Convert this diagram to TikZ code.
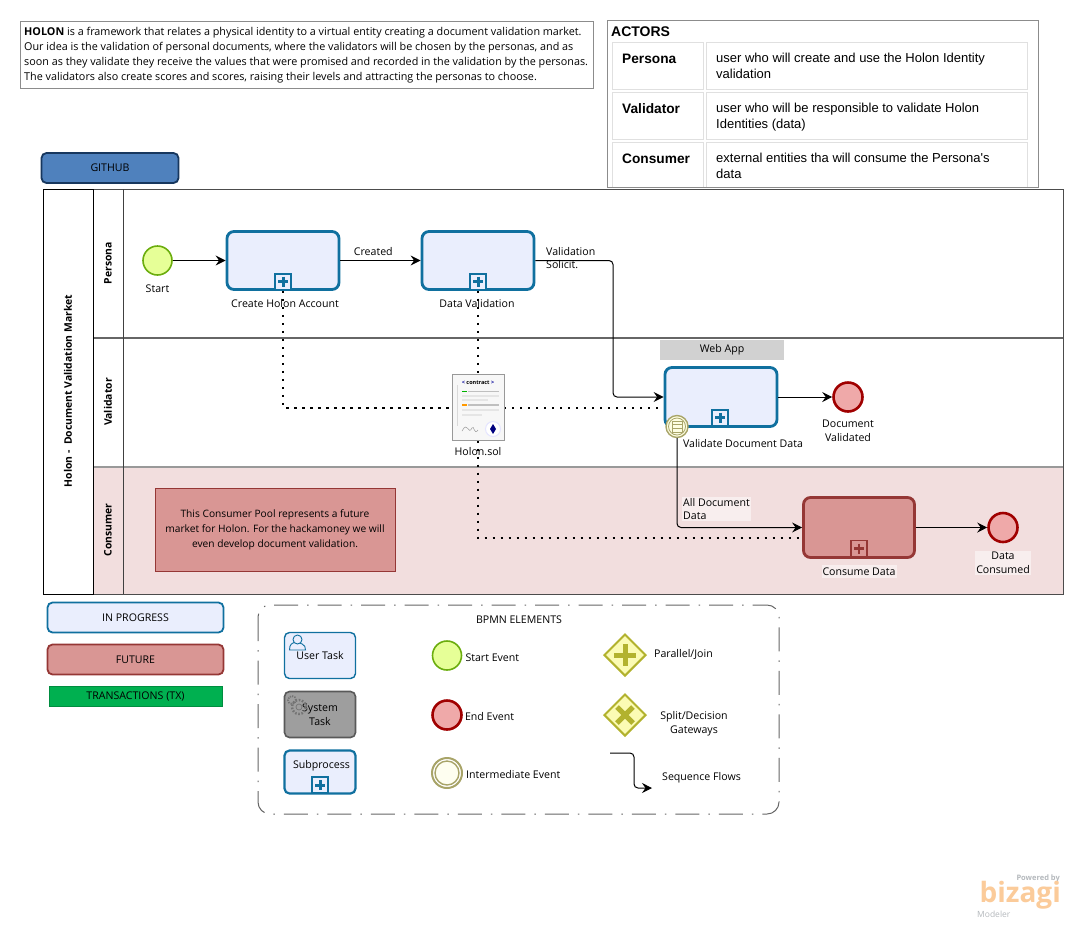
\documentclass[tikz,border=0pt]{standalone}
\usepackage{fontspec}
\setmainfont{Open Sans}
\newfontfamily\actorfont{Liberation Sans}
\usepackage{tikz}
\usetikzlibrary{arrows.meta,backgrounds,calc,positioning,shapes.geometric}
\definecolor{taskblue}{HTML}{10709F}
\definecolor{taskfill}{HTML}{EAEEFD}
\definecolor{futurefill}{HTML}{D99694}
\definecolor{futureline}{HTML}{953735}
\definecolor{lanepink}{HTML}{F2DEDE}
\definecolor{gatefill}{HTML}{FBFBB4}
\definecolor{gateline}{HTML}{B2B22E}
\definecolor{ringline}{HTML}{A8A468}
\definecolor{startfill}{HTML}{E6FF97}
\definecolor{startline}{HTML}{6BAD0E}
\definecolor{endfill}{HTML}{EFA9A9}
\definecolor{endline}{HTML}{A00000}
\definecolor{githubfill}{HTML}{4F81BD}
\definecolor{githubline}{HTML}{17375E}
\definecolor{txgreen}{HTML}{00B050}
\definecolor{logoorange}{HTML}{FBCB9A}
\definecolor{logogray}{HTML}{B4B8BC}
\tikzset{
  taskbox/.style={draw=taskblue,fill=taskfill,line width=2.8pt,rounded corners=7pt,minimum width=112pt,minimum height=58pt,inner sep=0pt},
  futurebox/.style={taskbox,draw=futureline,fill=futurefill},
  legendbox/.style={draw=taskblue,fill=taskfill,line width=1.8pt,rounded corners=5pt,minimum width=176pt,minimum height=30pt,inner sep=0pt,font=\fontsize{10.6}{12}\selectfont},
  smallbox/.style={legendbox,minimum width=71pt,minimum height=46pt,align=center},
  startev/.style={circle,draw=startline,fill=startfill,line width=1.6pt,inner sep=0pt,minimum size=29pt},
  endev/.style={circle,draw=endline,fill=endfill,line width=2.6pt,inner sep=0pt,minimum size=29pt},
  gatebox/.style={diamond,aspect=1,draw=gateline,fill=gatefill,line width=2pt,inner sep=0pt,minimum size=42pt},
  tasklabel/.style={font=\fontsize{10.6}{14}\selectfont,align=center,inner sep=1pt},
  lanelabel/.style={rotate=90,font=\bfseries\fontsize{10.4}{12}\selectfont,inner sep=0pt},
  cellbox/.style={draw=black!12,line width=1pt,inner sep=0pt},
  flow/.style={-{Stealth[length=10pt,width=10pt,inset=3.5pt]},line width=1pt,rounded corners=4pt},
  dotflow/.style={line width=2pt,dash pattern=on 2.2pt off 5.8pt},
  plusmark/.pic={
    \draw[taskblue,line width=2pt,fill=taskfill] (-8,-8) rectangle (8,8);
    \draw[taskblue,line width=3pt] (-5,0) -- (5,0) (0,-5) -- (0,5);
  },
  redplusmark/.pic={
    \draw[futureline,line width=1.2pt,fill=futurefill] (-8,-8) rectangle (8,8);
    \draw[futureline,line width=2.6pt] (-5,0) -- (5,0) (0,-5) -- (0,5);
  }
}
\begin{document}
\begin{tikzpicture}[x=1pt,y=-1pt]
  \useasboundingbox (0,0) rectangle (1083,927);
  % pool and lanes
  \fill[lanepink] (93,467) rectangle (1063,594);
  \draw[black!70,line width=1pt] (93,189) rectangle (1063,594);
  \draw[black!60,line width=1.4pt] (93,338) -- (1063,338);
  \draw[black!40,line width=1.4pt] (93,467) -- (1063,467);
  \draw[black!75,line width=1pt] (123,189) -- (123,594);
  \draw[black,line width=1pt] (43,189) rectangle (93,594);
  \node[lanelabel] (poollabel) at (68,391) {Holon -\ \ Document Validation Market};
  \node[lanelabel] (personalabel) at (108,263) {Persona};
  \node[lanelabel] (validatorlabel) at (108,402) {Validator};
  \node[lanelabel] (consumerlabel) at (108,530) {Consumer};
  % intro and actors
  \node[draw=black!45,line width=1pt,minimum width=573pt,minimum height=67pt,inner sep=0pt] (introbox) at (306.5,54.5) {};
  \node[anchor=west,inner sep=0pt,align=left,font=\fontsize{10.8}{15}\selectfont] (introtext) at (24,55)
    {\textbf{HOLON} is a framework that relates a physical identity to a virtual entity creating a document validation market.\\
     Our idea is the validation of personal documents, where the validators will be chosen by the personas, and as\\
     soon as they validate they receive the values that were promised and recorded in the validation by the personas.\\
     The validators also create scores and scores, raising their levels and attracting the personas to choose.};
  \node[draw=black!45,line width=1pt,minimum width=431pt,minimum height=167pt,inner sep=0pt] (actorbox) at (822.5,103.5) {};
  \node[anchor=west,inner sep=0pt,font=\actorfont\bfseries\fontsize{14}{16}\selectfont] (actortitle) at (611,32) {ACTORS};
  \foreach \yc/\who/\ytext [count=\i] in {65.5/Persona/{user who will create and use the Holon Identity\\validation},
      115.5/Validator/{user who will be responsible to validate Holon\\Identities (data)}} {
    \node[cellbox,minimum width=91pt,minimum height=47pt] (who\i) at (657.5,\yc) {};
    \node[cellbox,minimum width=321pt,minimum height=47pt] (what\i) at (866.5,\yc) {};
    \node[anchor=north west,inner sep=0pt,font=\actorfont\bfseries\fontsize{13.7}{16}\selectfont] (whotext\i) at (622,\yc-12) {\who};
    \node[anchor=north west,inner sep=0pt,align=left,font=\actorfont\fontsize{13}{16}\selectfont] (whattext\i) at (716,\yc-12.5) {\ytext};
  }
  \draw[cellbox] (612,186.5) |- (703,142) -- (703,186.5);
  \draw[cellbox] (706,186.5) |- (1027,142) -- (1027,186.5);
  \node[anchor=north west,inner sep=0pt,font=\actorfont\bfseries\fontsize{13.7}{16}\selectfont] (whotext3) at (622,153.5) {Consumer};
  \node[anchor=north west,inner sep=0pt,align=left,font=\actorfont\fontsize{13}{16}\selectfont] (whattext3) at (716,153) {external entities tha will consume the Persona's\\data};
  \node[legendbox,draw=githubline,fill=githubfill,minimum width=137pt,minimum height=30pt] (github) at (110,168) {GITHUB};
  % process nodes
  \node[startev] (start) at (157.5,260.5) {};
  \node[tasklabel,below=7.5pt of start] (startlabel) {Start};
  \node[taskbox] (createholon) at (283,260.5) {};
  \node[taskbox] (datavalidation) at (478,260.5) {};
  \node[taskbox,minimum height=59pt] (validatedata) at (721,397) {};
  \node[futurebox,minimum width=111pt,minimum height=60pt] (consumedata) at (859,527.5) {};
  \node[draw=none,fill=black!18,minimum width=124pt,minimum height=20pt,inner sep=0pt,font=\fontsize{10.6}{12}\selectfont] (webapp) at (722,350) {Web App};
  \node[endev] (docvalidated) at (848,397) {};
  \node[endev] (dataconsumed) at (1003,527.5) {};
  \node[draw=futureline,fill=futurefill,line width=.7pt,minimum width=240pt,minimum height=83pt,align=center,inner sep=0pt,font=\fontsize{10.2}{15}\selectfont] (consumernote) at (275,529.5)
    {This Consumer Pool represents a future\\market for Holon. For the hackamoney we will\\even develop document validation.};
  % dotted associations first, the contract sits on top
  \coordinate (contractin) at (803,538);
  \node[minimum width=52pt,minimum height=66pt,inner sep=0pt] (contract) at (478,407.5) {};
  \draw[dotflow] (createholon.south) |- (contract.west);
  \draw[dotflow] (datavalidation.south) -- (contract.north);
  \draw[dotflow] (contract.east) -- (contract.east -| validatedata.west);
  \draw[dotflow] (contract.south) |- (contractin);
  \node[draw=black!40,fill=black!3,line width=1pt,minimum width=52pt,minimum height=66pt,inner sep=0pt] (contractpage) at (contract) {};
  \node[inner sep=0pt,font=\bfseries\fontsize{5.5}{6}\selectfont] (contracttitle) at (478,382.5) {\textcolor{blue!60!black}{<} contract \textcolor{blue!60!black}{>}};
  \draw[black!25,line width=1.4pt] (468,391.5) -- (499,391.5) (468,405) -- (499,405);
  \draw[black!10,line width=1.4pt] (462,396) -- (499,396) (462,400) -- (488,400) (462,410) -- (499,410) (462,415) -- (482,415);
  \draw[green!70!black,line width=1.6pt] (462,391.5) -- (467,391.5);
  \draw[orange!80!yellow,line width=1.6pt] (462,405) -- (467,405);
  \draw[black!15,line width=.6pt] (457,385) -- (457,426);
  \draw[black!40,line width=.5pt] (462,431) .. controls (468,420) and (468,436) .. (472,428) .. controls (474,424) and (474,436) .. (478,430);
  \node[circle,draw=blue!10,fill=white,line width=1pt,inner sep=0pt,minimum size=15pt] (ethmark) at (493,429) {};
  \fill[blue!50!black] (493,424) -- (496,429) -- (493,434) -- (490,429) -- cycle;
  \node[tasklabel] (contractlabel) at (478,452) {Holon.sol};
  % sequence flows
  \draw[flow] (start) -- (createholon);
  \draw[flow] (createholon) -- node[tasklabel,above=3pt,pos=.41] (createdlabel) {Created} (datavalidation);
  \coordinate (solicitbend) at (613,260.5);
  \draw[flow] (datavalidation.east) -- (solicitbend) |- (validatedata.west);
  \node[tasklabel,anchor=west,align=left,font=\fontsize{10.6}{13}\selectfont] (solicitlabel) at (545,258) {Validation\\Solicit.};
  \draw[flow] (validatedata) -- (docvalidated);
  \node[circle,draw=ringline,fill=gatefill!40!white,line width=1.4pt,inner sep=0pt,minimum size=22pt] (attachev) at (677,426.5) {};
  \node[circle,draw=ringline,line width=.8pt,inner sep=0pt,minimum size=17pt] (attachring) at (attachev) {};
  \draw[ringline,line width=.8pt] (672,421) rectangle (682,432) (672,424.5) -- (682,424.5) (672,428) -- (682,428);
  \draw[flow] (attachev.south) |- (consumedata.west);
  \node[tasklabel,anchor=west,align=left,fill=lanepink!50!white,font=\fontsize{10.6}{13.5}\selectfont] (alldatalabel) at (682,509) {All Document\\Data};
  \draw[flow] (consumedata) -- (dataconsumed);
  \pic at (283,281.5) {plusmark};
  \pic at (478,281.5) {plusmark};
  \pic at (720,417.5) {plusmark};
  \pic at (859,548.5) {redplusmark};
  \node[tasklabel] (createlabel) at (285,303.5) {Create Holon Account};
  \node[tasklabel] (validationlabel) at (477,303.5) {Data Validation};
  \node[tasklabel] (validatelabel) at (743,443.5) {Validate Document Data};
  \node[tasklabel,fill=lanepink!50!white,inner ysep=3pt] (consumelabel) at (859,571.5) {Consume Data};
  \node[tasklabel,below=5.5pt of docvalidated] (docvalidatedlabel) {Document\\Validated};
  \node[tasklabel,fill=lanepink!50!white,below=7.5pt of dataconsumed] (dataconsumedlabel) {Data\\Consumed};
  % legend
  \node[legendbox] (inprogress) at (135.5,617.5) {IN PROGRESS};
  \node[legendbox,draw=futureline,fill=futurefill] (future) at (135.5,659.5) {FUTURE};
  \node[draw=txgreen!80!black,fill=txgreen,line width=.7pt,minimum width=173pt,minimum height=20pt,inner sep=0pt,font=\fontsize{10.6}{12}\selectfont] (transactions) at (135.5,696.5) {TRANSACTIONS (TX)};
  \draw[black!60,line width=1pt,rounded corners=12pt,dash pattern=on 24pt off 9pt on 1.5pt off 9pt] (258,605) rectangle (779,814);
  \node[tasklabel] (legendtitle) at (519,620) {BPMN ELEMENTS};
  \node[smallbox,line width=1.4pt] (usertask) at (320,655.5) {User Task};
  \draw[taskblue,line width=.9pt] (289.5,650) .. controls (289.5,644) and (292,643) .. (296,642) .. controls (300,643) and (306,644) .. (305.5,650) -- cycle;
  \draw[taskblue,line width=.9pt,fill=taskfill] (297.5,639.5) circle (4.5pt);
  \node[smallbox,draw=black!65,fill=black!38,line width=1.6pt,font=\fontsize{10.6}{14}\selectfont] (systemtask) at (320,714.5) {System\\Task};
  \draw[black!55,line width=2.4pt,dash pattern=on 1.6pt off 1.6pt] (299,707) circle (7pt);
  \draw[black!55,line width=.7pt] (299,707) circle (3pt);
  \draw[black!55,line width=1.8pt,dash pattern=on 1.2pt off 1.2pt] (292,700) circle (4pt);
  \node[smallbox,line width=2.2pt,minimum height=43pt] (subprocess) at (320,772) {};
  \node[tasklabel] (subprocesslabel) at (321.5,765.5) {Subprocess};
  \pic at (320,785) {plusmark};
  \node[startev] (legendstart) at (447,655.5) {};
  \node[tasklabel,right=2pt of legendstart,yshift=-2.5pt] (legendstartlabel) {Start Event};
  \node[endev] (legendend) at (447,715) {};
  \node[tasklabel,right=1pt of legendend,yshift=-2pt] (legendendlabel) {End Event};
  \node[circle,draw=ringline,fill=white,line width=2pt,inner sep=0pt,minimum size=30pt] (legendinter) at (447,773) {};
  \node[circle,draw=ringline,fill=gatefill!20!white,line width=1.4pt,inner sep=0pt,minimum size=24pt] (legendring) at (legendinter) {};
  \node[tasklabel,right=2pt of legendinter,yshift=-2pt] (legendinterlabel) {Intermediate Event};
  \node[gatebox] (parallelgate) at (625,655) {};
  \draw[gateline,line width=5pt] (614,655) -- (636,655) (625,644) -- (625,666);
  \node[tasklabel,anchor=west] (parallellabel) at (653,654) {Parallel/Join};
  \node[gatebox] (splitgate) at (625,715) {};
  \draw[gateline,line width=5pt] (617,707) -- (633,723) (617,723) -- (633,707);
  \node[tasklabel] (splitlabel) at (694,724) {Split/Decision\\Gateways};
  \coordinate (seqin) at (610,753);
  \coordinate (seqbend) at (634,788);
  \coordinate (seqout) at (652,788);
  \draw[flow] (seqin) -| (seqbend) -- (seqout);
  \node[tasklabel,anchor=west] (seqlabel) at (661,777.5) {Sequence Flows};
  % logo
  \node[inner sep=0pt,anchor=east,text=logogray,font=\bfseries\fontsize{7.5}{9}\selectfont] (poweredby) at (1060,879) {Powered by};
  \node[inner sep=0pt,anchor=east,text=logoorange,font=\bfseries\fontsize{28}{28}\selectfont] (bizagi) at (1061,895) {bizagi};
  \node[inner sep=0pt,anchor=west,text=logogray,font=\fontsize{8.5}{10}\selectfont] (modeler) at (977,914) {Modeler};
\end{tikzpicture}
\end{document}
